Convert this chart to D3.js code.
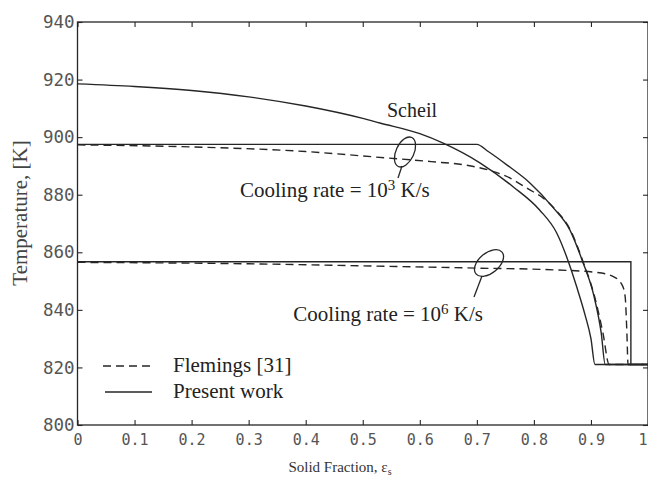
<!DOCTYPE html>
<html>
<head>
<meta charset="utf-8">
<script src="https://cdn.jsdelivr.net/npm/d3@7"></script>
<style>
  html, body { margin: 0; padding: 0; background: #fff; }
  svg { display: block; }
</style>
</head>
<body>
<svg id="chart" width="648" height="480"></svg>
<script>
// ---- data ----
const xTicks = [0, 0.1, 0.2, 0.3, 0.4, 0.5, 0.6, 0.7, 0.8, 0.9, 1];
const xTickLabels = ["0", "0.1", "0.2", "0.3", "0.4", "0.5", "0.6", "0.7", "0.8", "0.9", "1"];
const yTicks = [800, 820, 840, 860, 880, 900, 920, 940];

// Scheil (solid)
const scheilFs = [0, 0.1, 0.2, 0.3, 0.4, 0.5, 0.53, 0.6, 0.64, 0.706, 0.764, 0.81, 0.84, 0.86, 0.875, 0.89, 0.9, 0.907, 1];
const scheilT  = [918.5, 917.6, 916.2, 914, 910.8, 906.5, 904.9, 901.2, 898, 891, 882.7, 874.7, 866.7, 857, 848, 838, 830, 821, 821];

// Present work, cooling rate 10^3 K/s (solid)
const present3Fs = [0, 0.70, 0.72, 0.753, 0.793, 0.833, 0.863, 0.885, 0.905, 0.918, 0.925, 1];
const present3T  = [897.5, 897.5, 895, 890.3, 884.1, 875.7, 867.8, 857, 845, 832, 821, 821];

// Flemings, cooling rate 10^3 K/s (dashed)
const flem3Fs = [0, 0.2, 0.4, 0.54, 0.62, 0.68, 0.72, 0.76, 0.79, 0.816, 0.836, 0.865, 0.887, 0.907, 0.921, 0.932, 1];
const flem3T  = [897.3, 896.6, 895, 892.8, 891.5, 890.3, 888.6, 885.6, 882, 878.9, 875.2, 867.3, 856.3, 844.2, 832, 821, 821];

// Present work, cooling rate 10^6 K/s (solid)
const present6Fs = [0, 0.97, 0.97, 1];
const present6T  = [856.7, 856.7, 821, 821];

// Flemings, cooling rate 10^6 K/s (dashed)
const flem6Fs = [0, 0.3, 0.5, 0.7, 0.82, 0.91, 0.94, 0.955, 0.96, 0.963, 0.965, 1];
const flem6T  = [856.5, 856, 855.3, 854.5, 854, 853, 851.5, 848.5, 844.5, 832, 821, 821];

// ---- layout ----
const svg = d3.select("#chart");
const x = d3.scaleLinear().domain([0, 1]).range([77.5, 648]);
const y = d3.scaleLinear().domain([800, 940]).range([425, 22]);
const ink = "#262626";
const labelInk = "#555";
const serif = "'Liberation Serif', 'Times New Roman', serif";
const mono = "'DejaVu Sans Mono', 'Liberation Mono', monospace";

// frame
svg.append("rect")
  .attr("x", x(0)).attr("y", y(940))
  .attr("width", x(1) - x(0)).attr("height", y(800) - y(940))
  .attr("fill", "none").attr("stroke", ink).attr("stroke-width", 1.3);

// axes (inward ticks)
const gBottom = svg.append("g").attr("transform", `translate(0,${y(800)})`)
  .call(d3.axisBottom(x).tickValues(xTicks).tickSize(-5).tickPadding(9)
    .tickFormat((d, i) => xTickLabels[i]));
const gTop = svg.append("g").attr("transform", `translate(0,${y(940)})`)
  .call(d3.axisTop(x).tickValues(xTicks).tickSize(-5).tickFormat(""));
const gLeft = svg.append("g").attr("transform", `translate(${x(0)},0)`)
  .call(d3.axisLeft(y).tickValues(yTicks).tickSize(-5).tickPadding(3));
const gRight = svg.append("g").attr("transform", `translate(${x(1)},0)`)
  .call(d3.axisRight(y).tickValues(yTicks).tickSize(-5).tickFormat(""));

[gBottom, gTop, gLeft, gRight].forEach(g => {
  g.select(".domain").remove();
  g.selectAll(".tick line").attr("stroke", ink).attr("stroke-width", 1.1);
});
gBottom.selectAll("text").attr("font-family", mono).attr("font-size", 15).attr("fill", labelInk)
  .filter(d => d === 1).attr("text-anchor", "end").attr("dx", "-1");
gLeft.selectAll("text").attr("font-family", mono).attr("font-size", 17.5).attr("fill", labelInk);

// axis titles
svg.append("text")
  .attr("x", 340).attr("y", 472)
  .attr("text-anchor", "middle")
  .attr("font-family", serif).attr("font-size", 15).attr("fill", "#333")
  .text("Solid Fraction, ε")
  .append("tspan").attr("font-size", 10).attr("dy", 3).text("s");

svg.append("text")
  .attr("transform", "translate(27,213) rotate(-90)")
  .attr("text-anchor", "middle")
  .attr("font-family", serif).attr("font-size", 21).attr("fill", "#444")
  .text("Temperature, [K]");

// curves
const line = d3.line()
  .x(d => x(d[0])).y(d => y(d[1]))
  .curve(d3.curveMonotoneX);
const lineLin = d3.line().x(d => x(d[0])).y(d => y(d[1]));

const zip = (a, b) => a.map((v, i) => [v, b[i]]);

const series = [
  { pts: zip(scheilFs, scheilT), dash: null, gen: line },
  { pts: zip(present3Fs, present3T), dash: null, gen: line },
  { pts: zip(flem3Fs, flem3T), dash: "8,5", gen: line },
  { pts: zip(present6Fs, present6T), dash: null, gen: lineLin },
  { pts: zip(flem6Fs, flem6T), dash: "8,5", gen: line }
];

svg.append("g").selectAll("path").data(series).join("path")
  .attr("d", d => d.gen(d.pts))
  .attr("fill", "none")
  .attr("stroke", ink)
  .attr("stroke-width", 1.4)
  .attr("stroke-dasharray", d => d.dash);

// annotations
svg.append("text")
  .attr("x", 387).attr("y", 117)
  .attr("font-family", serif).attr("font-size", 20).attr("fill", "#222")
  .text("Scheil");

// ellipse 10^3
svg.append("ellipse")
  .attr("transform", "translate(405,152) rotate(-65)")
  .attr("rx", 16).attr("ry", 9)
  .attr("fill", "none").attr("stroke", ink).attr("stroke-width", 1.3);
svg.append("line")
  .attr("x1", 402).attr("y1", 166).attr("x2", 398).attr("y2", 178)
  .attr("stroke", ink).attr("stroke-width", 1.3);

const t3 = svg.append("text")
  .attr("x", 240).attr("y", 197)
  .attr("font-family", serif).attr("font-size", 21).attr("fill", "#222");
t3.append("tspan").text("Cooling rate = 10");
t3.append("tspan").attr("font-size", 15).attr("dy", -7).text("3");
t3.append("tspan").attr("dy", 7).text(" K/s");

// ellipse 10^6
svg.append("ellipse")
  .attr("transform", "translate(489,263) rotate(-40)")
  .attr("rx", 17).attr("ry", 10)
  .attr("fill", "none").attr("stroke", ink).attr("stroke-width", 1.3);
svg.append("line")
  .attr("x1", 482).attr("y1", 276).attr("x2", 474).attr("y2", 297)
  .attr("stroke", ink).attr("stroke-width", 1.3);

const t6 = svg.append("text")
  .attr("x", 483).attr("y", 321)
  .attr("text-anchor", "end")
  .attr("font-family", serif).attr("font-size", 21).attr("fill", "#222");
t6.append("tspan").text("Cooling rate = 10");
t6.append("tspan").attr("font-size", 15).attr("dy", -7).text("6");
t6.append("tspan").attr("dy", 7).text(" K/s");

// legend
const legend = svg.append("g");
legend.append("line").attr("x1", 103).attr("x2", 152).attr("y1", 366).attr("y2", 366)
  .attr("stroke", ink).attr("stroke-width", 1.4).attr("stroke-dasharray", "8,5");
legend.append("line").attr("x1", 105).attr("x2", 152).attr("y1", 392).attr("y2", 392)
  .attr("stroke", ink).attr("stroke-width", 1.4);
legend.append("text").attr("x", 173).attr("y", 372)
  .attr("font-family", serif).attr("font-size", 21).attr("fill", "#222")
  .text("Flemings [31]");
legend.append("text").attr("x", 173).attr("y", 398)
  .attr("font-family", serif).attr("font-size", 21).attr("fill", "#222")
  .text("Present work");
</script>
</body>
</html>
